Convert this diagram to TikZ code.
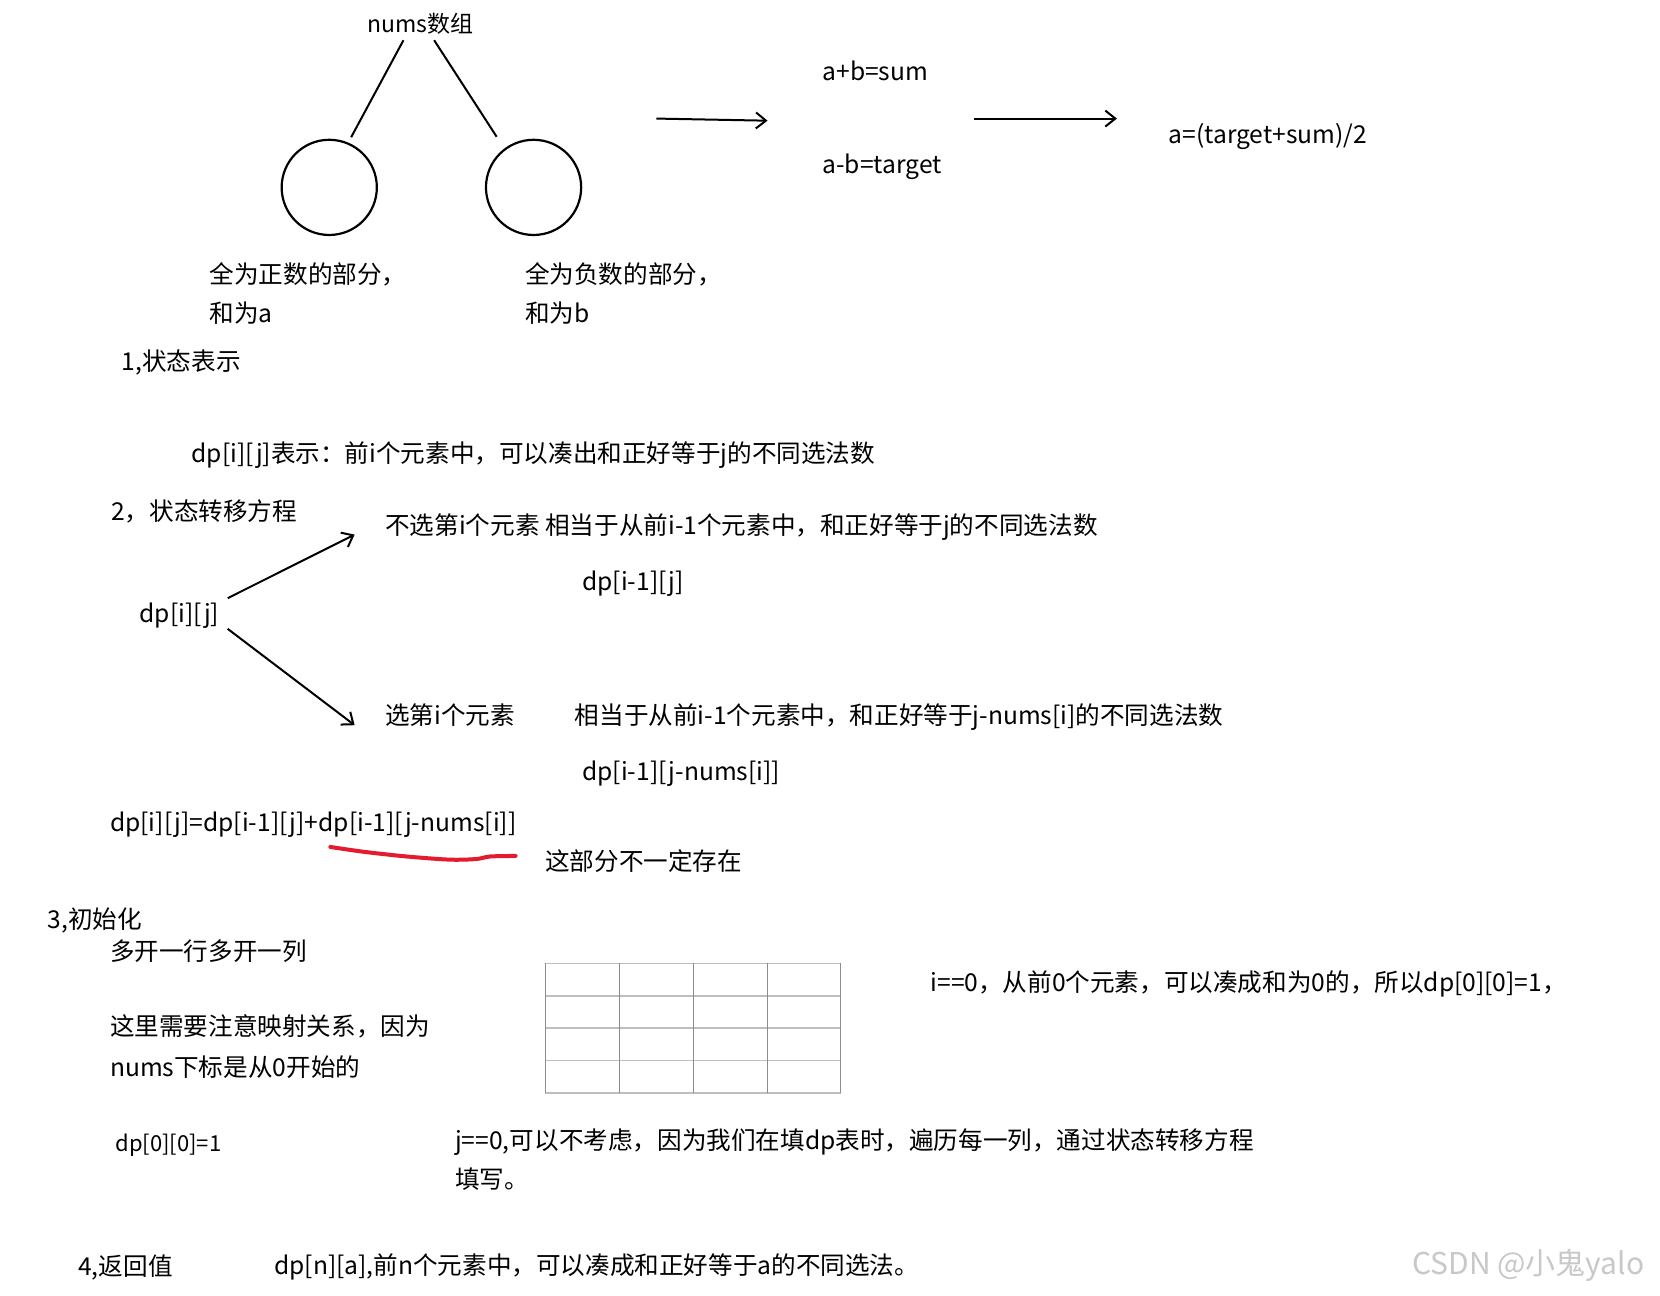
\documentclass[tikz,border=0pt]{standalone}
\usepackage{fontspec}
\setmainfont{Noto Sans CJK SC}
\usepackage{xcolor}
\usetikzlibrary{arrows.meta, positioning}
\definecolor{MarkRed}{RGB}{228,26,46}
\definecolor{GridRow}{RGB}{190,190,190}
\definecolor{GridCol}{RGB}{140,140,140}
\definecolor{WaterGray}{RGB}{200,200,200}

\begin{document}
\begin{tikzpicture}[
  x=0.5293pt, y=-0.5293pt,
  txt/.style={anchor=base west, inner sep=0pt, outer sep=0pt,
              font=\fontsize{12.3pt}{14pt}\selectfont},
  smalltxt/.style={txt, font=\fontsize{11pt}{13pt}\selectfont},
  ring/.style={draw, circle, line width=1.1pt, minimum size=47.6pt, inner sep=0pt},
  link/.style={line width=1pt},
  arr/.style={-{Straight Barb[length=5pt, width=8pt]}, line width=1pt},
  redmark/.style={draw=MarkRed, line width=2pt, line cap=round},
  rowline/.style={draw=GridRow, line width=0.9pt},
  colline/.style={draw=GridCol, line width=0.5pt},
]
\path[fill=white, use as bounding box] (0,0) rectangle (1568,1224);
%% Split of the array
\node[txt, font=\fontsize{11.5pt}{13pt}\selectfont] (nums) at (347,31) {nums数组};
\node[ring] (c1) at (311,177) {};
\node[ring] (c2) at (504,177) {};
\draw[link, shorten >=3pt] ([shift={(-16,7)}]nums.base) -- (c1.67);
\draw[link, shorten >=7pt] ([shift={(13,7)}]nums.base) -- (c2.127);
\node[txt] (posa) at (198,268) {全为正数的部分，};
\node[txt] (posb) at ([shift={(0,37)}]posa.base west) {和为a};
\node[txt] (nega) at (496,268) {全为负数的部分，};
\node[txt] (negb) at ([shift={(0,37)}]nega.base west) {和为b};
%% Equations
\coordinate (a1s) at (620,112);
\coordinate (a1e) at (725,114);
\coordinate (a2s) at (920,112);
\coordinate (a2e) at (1055,112);
\draw[arr] (a1s) -- (a1e);
\node[txt] (sumeq) at (777,76) {a+b=sum};
\node[txt] (diffeq) at (777,164) {a-b=target};
\draw[arr] (a2s) -- (a2e);
\node[txt] (aeq) at (1104,136) {a=(target+sum)/2};
%% 1 State
\node[txt] (s1) at (115,350) {1,状态表示};
\node[txt] (defn) at (181,437) {dp[i][j]表示：前i个元素中，可以凑出和正好等于j的不同选法数};
%% 2 Transition
\node[txt] (s2) at (105,492) {2，状态转移方程};
\node[txt] (dpij) at (132,588) {dp[i][j]};
\node[txt] (skip) at (364,505) {不选第i个元素 相当于从前i-1个元素中，和正好等于j的不同选法数};
\node[txt] (skipdp) at (550,558) {dp[i-1][j]};
\node[txt] (pick) at (364,684) {选第i个元素};
\node[txt] (pickdesc) at (543,684) {相当于从前i-1个元素中，和正好等于j-nums[i]的不同选法数};
\node[txt] (pickdp) at (550,737) {dp[i-1][j-nums[i]]};
\draw[arr] ([shift={(8,-23)}]dpij.base east) -- ([shift={(-29,0)}]skip.base west);
\draw[arr] ([shift={(8,6)}]dpij.base east) -- ([shift={(-29,1)}]pick.base west);
\node[txt] (rec) at (104,785) {dp[i][j]=dp[i-1][j]+dp[i-1][j-nums[i]]};
\draw[redmark] plot[smooth] coordinates {(312,800) (343,804.5) (384,809) (425,812) (450,811.4) (463,809) (487,808.5)};
\node[txt] (maybe) at (515,822) {这部分不一定存在};
%% 3 Init
\node[txt] (s3) at (45,877) {3,初始化};
\node[txt] (extra) at (104,907) {多开一行多开一列};
\node[txt] (mapa) at (104,978) {这里需要注意映射关系，因为};
\node[txt] (mapb) at (104,1017) {nums下标是从0开始的};
\draw[rowline] (515,910) -- (794,910) (515,940.6) -- (794,940.6) (515,971.2) -- (794,971.2)
  (515,1001.8) -- (794,1001.8) (515,1032.4) -- (794,1032.4);
\draw[colline] (515,910) -- (515,1032.4) (585,910) -- (585,1032.4) (655,910) -- (655,1032.4)
  (724.5,910) -- (724.5,1032.4) (794,910) -- (794,1032.4);
\node[txt] (i0) at (879,937) {i==0，从前0个元素，可以凑成和为0的，所以dp[0][0]=1，};
\node[smalltxt] (init) at (109,1088) {dp[0][0]=1};
\node[txt] (j0a) at (430,1086) {j==0,可以不考虑，因为我们在填dp表时，遍历每一列，通过状态转移方程};
\node[txt] (j0b) at ([shift={(0,37)}]j0a.base west) {填写。};
%% 4 Result
\node[txt] (s4) at (74,1205) {4,返回值};
\node[txt] (ret) at (259,1204) {dp[n][a],前n个元素中，可以凑成和正好等于a的不同选法。};
\node[txt, font=\fontsize{15pt}{17pt}\selectfont, text=WaterGray] (mark) at (1334,1204) {CSDN @小鬼yalo};
\end{tikzpicture}
\end{document}
